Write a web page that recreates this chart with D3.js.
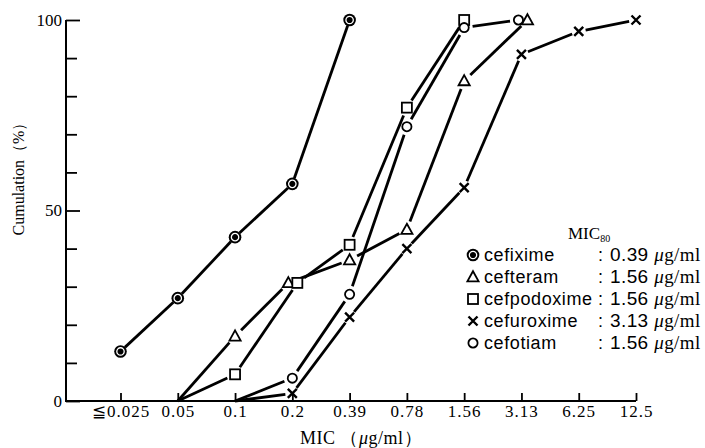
<!DOCTYPE html>
<html>
<head>
<meta charset="utf-8">
<script src="https://cdn.jsdelivr.net/npm/d3@7"></script>
<style>
  body { margin: 0; background: #fff; }
  .serif { font-family: "Liberation Serif", "DejaVu Serif", serif; }
  .sans { font-family: "Liberation Sans", Arial, sans-serif; }
</style>
</head>
<body>
<div class="container"></div>
<script>
// MIC values on the x axis (log2 steps, drawn as equal categories)
var doses = ["≦0.025", "0.05", "0.1", "0.2", "0.39", "0.78", "1.56", "3.13", "6.25", "12.5"];

// cumulative % of strains inhibited, one value per dose (null = not plotted)
var cefixime    = [13, 27, 43, 57, 100, null, null, null, null, null];
var cefteram    = [null, 0, 17, 31, 37, 45, 84, 100, null, null];
var cefpodoxime = [null, 0, 7, 31, 41, 77, 100, null, null, null];
var cefuroxime  = [null, null, 0, 2, 22, 40, 56, 91, 97, 100];
var cefotiam    = [null, null, 0, 6, 28, 72, 98, 100, null, null];

var drugNames = ["cefixime", "cefteram", "cefpodoxime", "cefuroxime", "cefotiam"];
var mic80 = ["0.39", "1.56", "1.56", "3.13", "1.56"];

var yTicks = [0, 10, 20, 30, 40, 50, 60, 70, 80, 90, 100];
var yLabels = [0, 50, 100];

const WIDTH = 705;
const HEIGHT = 448;

var allSeries = [cefixime, cefteram, cefpodoxime, cefuroxime, cefotiam];
var symbols = ["dot", "triangle", "square", "cross", "circle"];

// small sideways shifts where two markers share the same spot (pixels)
var nudge = {
  1: {3: -4, 7: 6},
  2: {3: 5},
  4: {7: -3}
};

var svg = d3.select('.container').append('svg')
  .attr('width', WIDTH)
  .attr('height', HEIGHT);

var xScale = d3.scalePoint()
  .domain(doses)
  .range([120.5, 636]);

var yScale = d3.scaleLinear()
  .domain([0, 100])
  .range([401, 20]);

var AXIS_X = 66;

var translate = function (x, y) {
  return "translate(" + x + "," + y + ")";
};

// ---- axes ----
var xAxis = d3.axisBottom(xScale)
  .tickSizeInner(-8)
  .tickSizeOuter(0)
  .tickPadding(4);

var xg = svg.append('g')
  .attr('transform', translate(0, yScale(0)))
  .call(xAxis);
xg.select('.domain').remove();
xg.selectAll('line').attr('stroke', '#000').attr('stroke-width', 1.8);
xg.selectAll('text')
  .attr('class', 'serif')
  .style('font-size', '17px')
  .style('letter-spacing', '1px')
  .attr('fill', '#000');

var yAxis = d3.axisLeft(yScale)
  .tickValues(yTicks)
  .tickSizeInner(-11)
  .tickSizeOuter(0)
  .tickPadding(4)
  .tickFormat(function (d) { return yLabels.indexOf(d) >= 0 ? d : ""; });

var yg = svg.append('g')
  .attr('transform', translate(AXIS_X, 0))
  .call(yAxis);
yg.select('.domain').remove();
yg.selectAll('line')
  .attr('stroke', '#000')
  .attr('stroke-width', 1.8)
  .attr('x2', function (d) { return yLabels.indexOf(d) >= 0 ? 14 : 11; });
yg.selectAll('text')
  .attr('class', 'serif')
  .style('font-size', '17px')
  .attr('fill', '#000');

// axis lines
svg.append('path')
  .attr('d', 'M' + AXIS_X + ',' + yScale(100) + 'V' + yScale(0) + 'H' + xScale(doses[doses.length - 1]))
  .attr('fill', 'none')
  .attr('stroke', '#000')
  .attr('stroke-width', 2);

// axis titles
svg.append('text')
  .attr('class', 'serif')
  .attr('transform', translate(24, 175) + ' rotate(-90)')
  .attr('text-anchor', 'middle')
  .style('font-size', '16px')
  .text('Cumulation（%）');

var xt = svg.append('text')
  .attr('class', 'serif')
  .attr('x', 361)
  .attr('y', 444)
  .attr('text-anchor', 'middle')
  .style('font-size', '18px')
  .style('letter-spacing', '0.5px');
xt.append('tspan').text('MIC （');
xt.append('tspan').style('font-style', 'italic').text('μ');
xt.append('tspan').text('g/ml）');

// ---- markers ----
var drawMarker = function (g, kind, cx, cy) {
  var m = g.append('g').attr('transform', translate(cx, cy));
  if (kind === 'dot') {
    m.append('circle').attr('r', 6.3).attr('fill', '#000');
    m.append('circle').attr('r', 3.7).attr('fill', 'none')
      .attr('stroke', '#fff').attr('stroke-width', 1.3);
  } else if (kind === 'triangle') {
    m.append('path').attr('d', 'M0,-5.8L5.6,4.3L-5.6,4.3Z')
      .attr('fill', '#fff').attr('stroke', '#000').attr('stroke-width', 1.8);
  } else if (kind === 'square') {
    m.append('rect').attr('x', -5).attr('y', -5).attr('width', 10).attr('height', 10)
      .attr('fill', '#fff').attr('stroke', '#000').attr('stroke-width', 1.8);
  } else if (kind === 'cross') {
    m.append('path').attr('d', 'M-4.5,-4.5L4.5,4.5M-4.5,4.5L4.5,-4.5')
      .attr('stroke', '#000').attr('stroke-width', 2.4);
  } else {
    m.append('circle').attr('r', 4.6)
      .attr('fill', '#fff').attr('stroke', '#000').attr('stroke-width', 1.8);
  }
};

var gapFor = function (kind) {
  if (kind === 'dot') return 6;
  if (kind === 'cross') return 7;
  return 8.5;
};

var plot = svg.append('g');

allSeries.forEach(function (values, s) {
  var kind = symbols[s];
  var pts = [];
  values.forEach(function (v, i) {
    if (v === null) return;
    var dx = (nudge[s] && nudge[s][i]) || 0;
    pts.push({x: xScale(doses[i]) + dx, y: yScale(v), mark: v > 0});
  });

  // line segments stop short of the symbols
  for (var k = 0; k < pts.length - 1; k++) {
    var a = pts[k], b = pts[k + 1];
    var len = Math.hypot(b.x - a.x, b.y - a.y);
    var ux = (b.x - a.x) / len, uy = (b.y - a.y) / len;
    var ga = a.mark ? gapFor(kind) : 0;
    var gb = b.mark ? gapFor(kind) : 0;
    plot.append('line')
      .attr('x1', a.x + ux * ga).attr('y1', a.y + uy * ga)
      .attr('x2', b.x - ux * gb).attr('y2', b.y - uy * gb)
      .attr('stroke', '#000')
      .attr('stroke-width', 2.8);
  }

  pts.forEach(function (p) {
    if (p.mark) drawMarker(plot, kind, p.x, p.y);
  });
});

// ---- legend ----
var legend = svg.append('g');

var lt = legend.append('text')
  .attr('class', 'serif')
  .attr('x', 568)
  .attr('y', 239)
  .style('font-size', '17px')
  .text('MIC');
lt.append('tspan').attr('dy', 3).style('font-size', '10px').text('80');

drugNames.forEach(function (name, i) {
  var cy = 255 + i * 22;
  drawMarker(legend, symbols[i], 473, cy);
  legend.append('text')
    .attr('class', 'sans')
    .attr('x', 484)
    .attr('y', cy + 6)
    .style('font-size', '18px')
    .style('letter-spacing', '0.6px')
    .text(name);
  legend.append('text')
    .attr('class', 'sans')
    .attr('x', 598)
    .attr('y', cy + 6)
    .style('font-size', '18px')
    .text(':');
  var vt = legend.append('text')
    .attr('x', 610)
    .attr('y', cy + 6)
    .style('font-size', '19px')
    .style('letter-spacing', '0.4px');
  vt.append('tspan').attr('class', 'sans').text(mic80[i] + ' ');
  vt.append('tspan').attr('class', 'serif').style('font-style', 'italic').text('μ');
  vt.append('tspan').attr('class', 'serif').text('g/ml');
});
</script>
</body>
</html>
